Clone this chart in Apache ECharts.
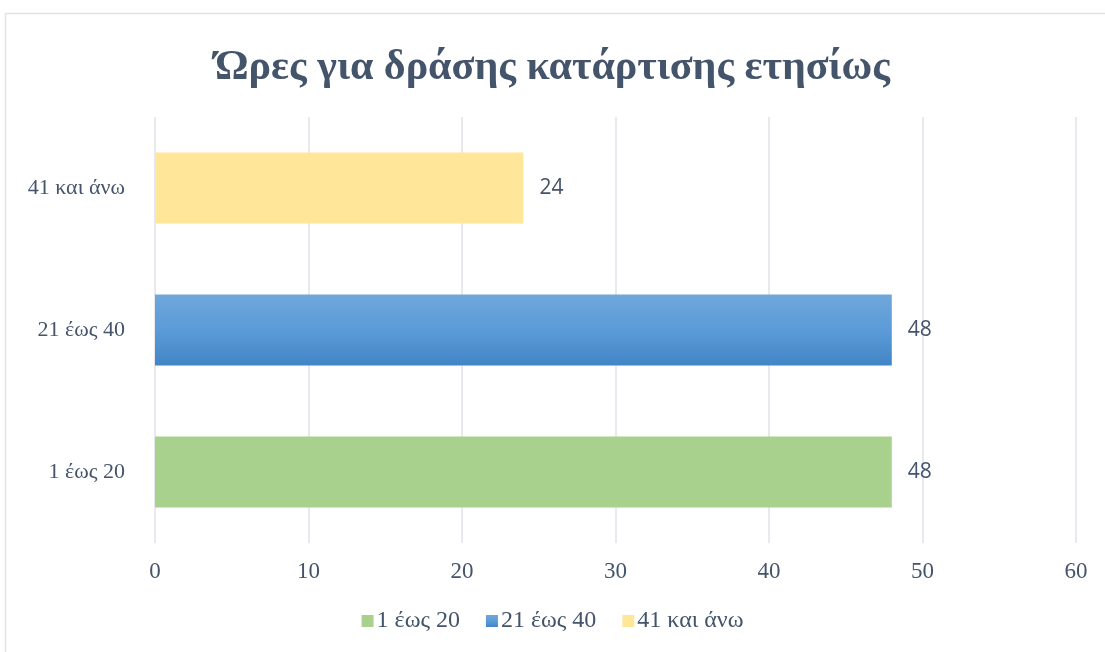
<!DOCTYPE html>
<html>

<head>
    <meta charset="utf-8">
</head>

<body style="margin: 0">
    <div id="container" style="width: 1105px; height: 652px"></div>
    <script type="text/javascript" src="https://cdn.jsdelivr.net/npm/echarts@6/dist/echarts.min.js"></script>
    <script>
        var categories = ['1 έως 20', '21 έως 40', '41 και άνω']
        var seriesNames = ['1 έως 20', '21 έως 40', '41 και άνω']
        var values1 = [48, '-', '-']
        var values2 = ['-', 48, '-']
        var values3 = ['-', '-', 24]
        var xTicks = [0, 10, 20, 30, 40, 50, 60]

        var textColor = '#44546a'
        var serif = '"Liberation Serif", "DejaVu Serif", serif'

        var myChart = echarts.init(document.getElementById('container'))

        function makeSeries(name, data, color) {
            return {
                name: name,
                type: 'bar',
                stack: 'all',
                barWidth: '50%',
                data: data,
                itemStyle: { color: color },
                label: {
                    show: true,
                    position: 'right',
                    distance: 16,
                    color: textColor,
                    fontSize: 21,
                    fontFamily: '"Open Sans", "Liberation Sans", sans-serif'
                }
            }
        }

        var blue = new echarts.graphic.LinearGradient(0, 0, 0, 1, [
            { offset: 0, color: '#6fa7da' },
            { offset: 0.5, color: '#5b9bd8' },
            { offset: 1, color: '#4285c6' }
        ])

        var option = {
            animation: false,
            title: {
                text: 'Ώρες για δράσης κατάρτισης ετησίως',
                left: 'center',
                top: 42,
                textStyle: {
                    color: textColor,
                    fontSize: 42,
                    fontWeight: 'bold',
                    fontFamily: serif
                }
            },
            graphic: [{
                type: 'rect',
                shape: { x: 5.5, y: 13.5, width: 1110, height: 660 },
                style: { fill: 'none', stroke: '#dfe2e8', lineWidth: 1.5 },
                silent: true
            }],
            legend: {
                bottom: 14,
                left: 'center',
                itemWidth: 12,
                itemHeight: 12,
                itemGap: 26,
                icon: 'rect',
                textStyle: { color: textColor, fontSize: 24, fontFamily: serif, padding: [0, 0, 0, -2] },
                data: seriesNames
            },
            grid: { left: 155, right: 29, top: 117, bottom: 109 },
            xAxis: {
                type: 'value',
                min: 0,
                max: 60,
                interval: 10,
                axisLine: { show: false },
                axisTick: { show: false },
                splitLine: { lineStyle: { color: '#dfe2e8', width: 1.5 } },
                axisLabel: {
                    color: textColor,
                    fontSize: 23,
                    fontFamily: serif,
                    margin: 17,
                    formatter: function (v) { return xTicks.indexOf(v) >= 0 ? String(v) : '' }
                }
            },
            yAxis: {
                type: 'category',
                data: categories,
                axisLine: { show: false },
                axisTick: { show: false },
                axisLabel: { color: textColor, fontSize: 22, fontFamily: serif, margin: 30 }
            },
            series: [
                makeSeries(seriesNames[0], values1, '#a9d18e'),
                makeSeries(seriesNames[1], values2, blue),
                makeSeries(seriesNames[2], values3, '#ffe699')
            ]
        }
        myChart.setOption(option)
    </script>

</body>

</html>
